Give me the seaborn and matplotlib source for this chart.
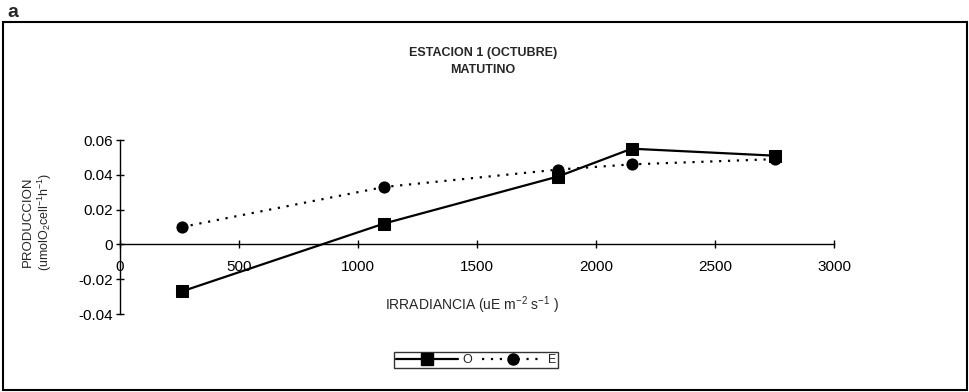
import matplotlib
matplotlib.use("Agg")
import matplotlib.pyplot as plt
import seaborn as sns
import pandas as pd
from matplotlib.patches import Rectangle
from matplotlib.lines import Line2D

# ---- data ----
irradiancia = [260, 1110, 1840, 2150, 2750]
serie_o = [-0.027, 0.012, 0.039, 0.055, 0.051]
serie_e = [0.010, 0.033, 0.043, 0.046, 0.049]
series_names = ["O", "E"]
x_ticks = [0, 500, 1000, 1500, 2000, 2500, 3000]
y_ticks = [-0.04, -0.02, 0, 0.02, 0.04, 0.06]
y_tick_labels = ["-0.04", "-0.02", "0", "0.02", "0.04", "0.06"]

df = pd.DataFrame({
    "irr": irradiancia * 2,
    "prod": serie_o + serie_e,
    "serie": [series_names[0]] * len(irradiancia) + [series_names[1]] * len(irradiancia),
})

sns.set_theme(style="white")
plt.rcParams["font.family"] = ["Liberation Sans", "DejaVu Sans"]
plt.rcParams["mathtext.default"] = "regular"

W, H = 970, 392
fig = plt.figure(figsize=(W / 100, H / 100), dpi=100)
ax = fig.add_axes([120 / W, 1 - 314 / H, (834 - 120) / W, (314 - 140) / H])

sns.lineplot(
    data=df, x="irr", y="prod", hue="serie", style="serie",
    palette={"O": "black", "E": "black"},
    markers={"O": "s", "E": "o"},
    dashes={"O": "", "E": (1, 3)},
    markersize=8, linewidth=1.6, markeredgecolor="black",
    ax=ax, legend=False, sort=False,
)

ax.set_xlim(0, 3000)
ax.set_ylim(-0.04, 0.06)
ax.set_xticks(x_ticks)
ax.set_xticklabels([str(t) for t in x_ticks])
ax.set_yticks(y_ticks)
ax.set_yticklabels(y_tick_labels)
ax.set_xlabel("")
ax.set_ylabel("")

for s in ["top", "right"]:
    ax.spines[s].set_visible(False)
ax.spines["bottom"].set_position(("data", 0))
for s in ["left", "bottom"]:
    ax.spines[s].set_color("black")
    ax.spines[s].set_linewidth(1.0)

ax.tick_params(axis="both", direction="inout", length=6, width=1.0, color="black",
               labelsize=11, labelcolor="black")
ax.tick_params(axis="x", pad=8)
ax.tick_params(axis="y", pad=2)
ax.xaxis.set_ticks_position("bottom")
ax.yaxis.set_ticks_position("left")

# legend
handles = [
    Line2D([], [], color="black", lw=1.6, marker="s", markersize=8),
    Line2D([], [], color="black", lw=1.6, marker="o", markersize=8, dashes=(1, 3)),
]
leg = fig.legend(handles, series_names, loc="center", bbox_to_anchor=(476 / W, 1 - 360 / H),
                 ncol=2, fontsize=9, frameon=True, fancybox=False, handlelength=5,
                 handletextpad=0.3, columnspacing=0.8, borderpad=0.15, borderaxespad=0)
leg.get_frame().set_edgecolor("black")
leg.get_frame().set_linewidth(1.0)

# titles and labels
fig.text(483 / W, 1 - 53 / H, "ESTACION 1 (OCTUBRE)", ha="center", va="center",
         fontsize=9, fontweight="bold")
fig.text(483 / W, 1 - 70 / H, "MATUTINO", ha="center", va="center",
         fontsize=9, fontweight="bold")
fig.text(472 / W, 1 - 305 / H, "IRRADIANCIA (uE m$^{-2}$ s$^{-1}$ )", ha="center", va="center",
         fontsize=10)
fig.text(28 / W, 1 - 222 / H, "PRODUCCION", rotation=90, ha="center", va="center", fontsize=9.5)
fig.text(45 / W, 1 - 222 / H, "(umolO$_2$cell$^{-1}$h$^{-1}$)", rotation=90, ha="center",
         va="center", fontsize=9)
fig.text(7 / W, 1 - 17 / H, "a", ha="left", va="baseline", fontsize=14, fontweight="bold")

# outer border box
fig.patches.append(Rectangle((3 / W, 1 - 390 / H), (967 - 3) / W, (390 - 22) / H,
                             transform=fig.transFigure, fill=False, edgecolor="black",
                             linewidth=1.5))

fig.savefig("out.png", dpi=100)
